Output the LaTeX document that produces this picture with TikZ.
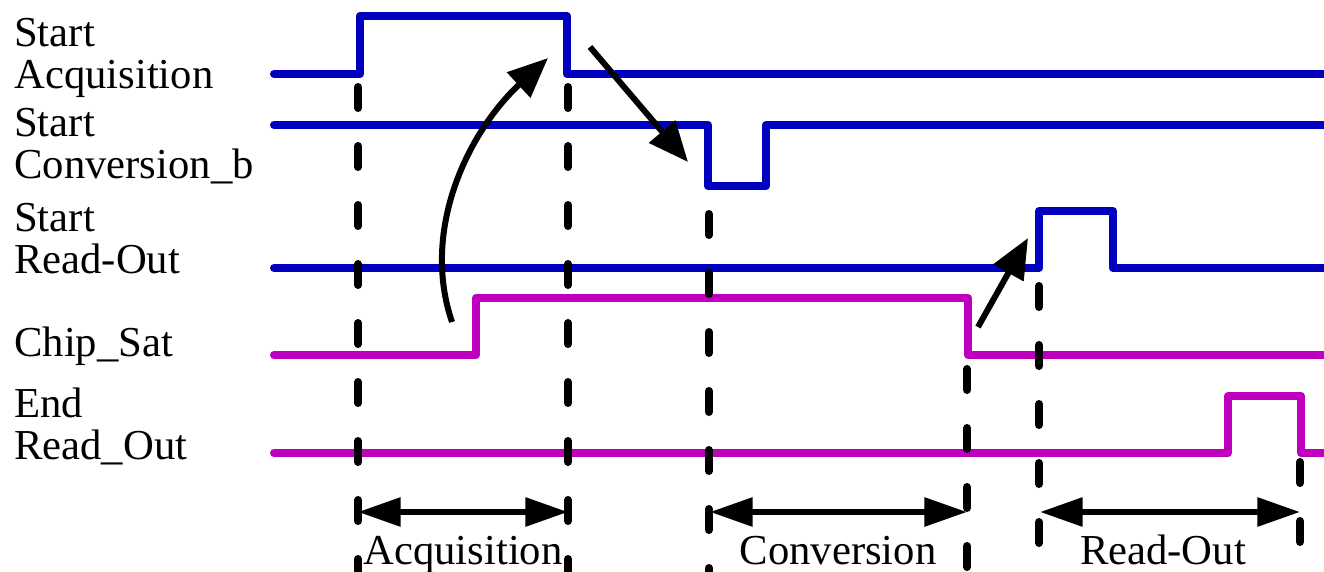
\documentclass[tikz,border=0pt]{standalone}
\usepackage{fontspec}
\setmainfont{Liberation Serif}
\usetikzlibrary{arrows.meta}
\definecolor{sigblue}{RGB}{0,0,190}
\definecolor{sigmag}{RGB}{190,0,190}
\begin{document}
\begin{tikzpicture}[x=0.75pt,y=-0.75pt,
  sig/.style={line width=6pt, line join=round, line cap=round},
  bluesig/.style={sig, draw=sigblue},
  magsig/.style={sig, draw=sigmag},
  guide/.style={line width=6pt, line cap=round, dash pattern=on 15.75pt off 28.5pt},
  span/.style={line width=4.5pt, {Triangle[length=32pt,width=21pt]}-{Triangle[length=32pt,width=21pt]}},
  cause/.style={line width=4.5pt, -{Triangle[length=30pt,width=25pt]}},
  lbl/.style={anchor=base west, inner sep=0pt, font=\fontsize{32pt}{32pt}\selectfont},
  blbl/.style={anchor=base, inner sep=0pt, font=\fontsize{32pt}{32pt}\selectfont}
]
\useasboundingbox (0,0) rectangle (1324,571);
\clip (0,0) rectangle (1324,571);

% signal names
\node[lbl] (l1a) at (14,46) {Start};
\node[lbl] (l1b) at (14,88) {Acquisition};
\node[lbl] (l2a) at (14,136) {Start};
\node[lbl] (l2b) at (14,178) {Conversion\_b};
\node[lbl] (l3a) at (14,231) {Start};
\node[lbl] (l3b) at (14,273) {Read-Out};
\node[lbl] (l4) at (14,356) {Chip\_Sat};
\node[lbl] (l5a) at (14,417) {End};
\node[lbl] (l5b) at (14,459) {Read\_Out};

% waveforms
\draw[bluesig] (274,74) -- (360,74) -- (360,16) -- (567,16) -- (567,74) -- (1340,74);
\draw[bluesig] (274,125) -- (708,125) -- (708,186) -- (766,186) -- (766,125) -- (1340,125);
\draw[bluesig] (274,268) -- (1039,268) -- (1039,211) -- (1113,211) -- (1113,268) -- (1340,268);
\draw[magsig] (274,355) -- (476,355) -- (476,298) -- (968,298) -- (968,355) -- (1340,355);
\draw[magsig] (274,453) -- (1228,453) -- (1228,396) -- (1301,396) -- (1301,453) -- (1340,453);

% causal arrows
\coordinate (c1s) at (452,322);
\coordinate (c1e) at (548,58);
\coordinate (c2s) at (590,47);
\coordinate (c2e) at (688,162);
\coordinate (c3s) at (978,327);
\coordinate (c3e) at (1028,238);
\draw[cause] (c1s) .. controls (420,228) and (470,130) .. (c1e);
\draw[cause] (c2s) -- (c2e);
\draw[cause] (c3s) -- (c3e);

% dashed guides
\draw[guide] (358,87) -- (358,620);
\draw[guide] (568,87) -- (568,620);
\draw[guide] (709,214) -- (709,620);
\draw[guide] (967,369) -- (967,620);
\draw[guide] (1039,286) -- (1039,620);
\draw[guide] (1300,462) -- (1300,620);

% interval arrows
\coordinate (a1) at (358,512);
\coordinate (a2) at (568,512);
\coordinate (b1) at (710,512);
\coordinate (b2) at (967,512);
\coordinate (r1) at (1040,512);
\coordinate (r2) at (1300,512);
\draw[span] (a1) -- (a2);
\draw[span] (b1) -- (b2);
\draw[span] (r1) -- (r2);

\node[blbl] (t1) at (463,564) {Acquisition};
\node[blbl] (t2) at (838,564) {Conversion};
\node[blbl] (t3) at (1163,564) {Read-Out};
\end{tikzpicture}
\end{document}
